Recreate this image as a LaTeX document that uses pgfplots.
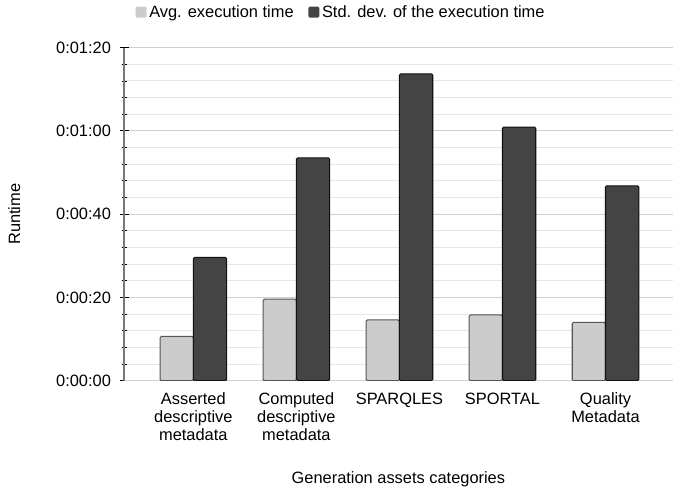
\documentclass[border=0pt]{standalone}
\usepackage{pgfplots}
\pgfplotsset{compat=1.18}
\usepackage{fontspec}
\setmainfont{Liberation Sans}
\definecolor{avgfill}{HTML}{CCCCCC}
\definecolor{avgdraw}{HTML}{555555}
\definecolor{stdfill}{HTML}{444444}
\definecolor{stddraw}{HTML}{111111}
\definecolor{majgrid}{HTML}{CFCFCF}
\definecolor{mingrid}{HTML}{E6E6E6}
\definecolor{axgray}{HTML}{777777}
\begin{document}
\begin{tikzpicture}
\begin{axis}[
  scale only axis,
  width=411pt, height=249.75pt,
  xmin=-0.67, xmax=4.65, ymin=0, ymax=80,
  ybar=0pt, bar width=0.323,
  font=\fontsize{12.3}{13.5}\selectfont,
  xtick={0,1,2,3,4},
  xticklabels={{Asserted\\descriptive\\metadata},{Computed\\descriptive\\metadata},{SPARQLES},{SPORTAL},{Quality\\Metadata}},
  xticklabel style={align=center, font=\fontsize{12.3}{13.5}\selectfont, yshift=-2pt},
  major x tick style={draw=none},
  ytick={0,20,40,60,80},
  yticklabels={0:00:00,0:00:20,0:00:40,0:01:00,0:01:20},
  minor ytick={4,8,12,16,24,28,32,36,44,48,52,56,64,68,72,76},
  yticklabel style={font=\fontsize{12.3}{13.5}\selectfont, xshift=-3pt},
  ymajorgrids, yminorgrids,
  major grid style={majgrid, line width=0.75pt},
  minor grid style={mingrid, line width=0.75pt},
  tick align=center,
  major tick length=7pt, minor tick length=4pt,
  major y tick style={black, line width=0.6pt},
  minor y tick style={black, line width=0.6pt},
  axis x line*=bottom, axis y line*=left,
  x axis line style={-, majgrid, line width=0.75pt},
  y axis line style={-, axgray, line width=1.3pt},
  ylabel={Runtime},
  ylabel style={at={(axis description cs:-0.2007,0.5)}, anchor=center, inner ysep=6.2pt, font=\fontsize{12.3}{13.5}\selectfont},
  xlabel={Generation assets categories},
  xlabel style={at={(axis description cs:0.5,-0.296)}, anchor=center, font=\fontsize{12.3}{13.5}\selectfont},
  legend columns=2,
  legend style={at={(axis description cs:0.396,1.106)}, anchor=center, draw=none, fill=none,
    font=\fontsize{12.3}{13.5}\selectfont, /tikz/every even column/.append style={column sep=9pt}},
  legend image code/.code={\fill[#1, draw=none] (-3pt,-4pt) rectangle (5.25pt,4.25pt);},
]
\addplot[fill=avgfill, draw=avgdraw, line width=0.8pt, rounded corners=1pt] coordinates {(0,10.65) (1,19.6) (2,14.6) (3,15.8) (4,14.0)};
\addlegendentry{Avg. execution time}
\addplot[fill=stdfill, draw=stddraw, line width=0.8pt, rounded corners=1pt] coordinates {(0,29.6) (1,53.5) (2,73.7) (3,60.9) (4,46.8)};
\addlegendentry{Std. dev. of the execution time}
\end{axis}
\end{tikzpicture}
\end{document}
